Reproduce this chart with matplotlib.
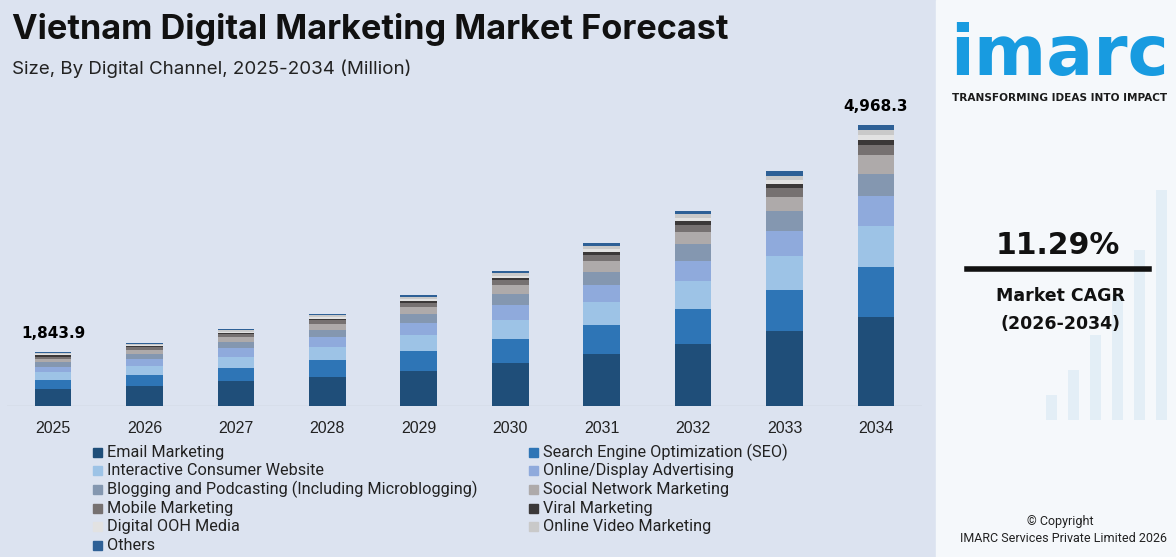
import numpy as np
import matplotlib.pyplot as plt
from matplotlib.patches import Rectangle

W, H = 1176, 557

years = ['2025', '2026', '2027', '2028', '2029', '2030', '2031', '2032', '2033', '2034']
segments = ['Email Marketing', 'Search Engine Optimization (SEO)', 'Interactive Consumer Website',
            'Online/Display Advertising', 'Blogging and Podcasting (Including Microblogging)',
            'Social Network Marketing', 'Mobile Marketing', 'Viral Marketing', 'Digital OOH Media',
            'Online Video Marketing', 'Others']
colors = ['#1f4e79', '#2e75b6', '#9dc3e6', '#8faadc', '#8497b0', '#aeaaaa',
          '#767171', '#3b3838', '#e2e2e2', '#c9c9c9', '#2e6096']

email = [299, 356, 434, 519, 626, 762, 914, 1100, 1330, 1579]
seo = [160, 199, 243, 290, 350, 426, 512, 621, 727, 887]
interactive = [147, 160, 195, 233, 282, 342, 411, 497, 603, 710]
display = [89, 120, 146, 175, 211, 256, 308, 355, 444, 532]
blogging = [83, 91, 111, 132, 159, 194, 233, 284, 337, 403]
social = [53, 73, 89, 106, 128, 156, 187, 218, 254, 325]
mobile = [41, 40, 49, 59, 71, 86, 103, 124, 154, 177]
viral = [23, 20, 25, 29, 35, 43, 52, 71, 71, 89]
dooh = [18, 20, 25, 29, 35, 43, 52, 59, 76, 89]
video = [18, 20, 25, 29, 35, 43, 52, 59, 71, 89]
others = [18, 20, 25, 29, 35, 43, 52, 59, 83, 89]
series = [email, seo, interactive, display, blogging, social, mobile, viral, dooh, video, others]

total_labels = {0: 1843.9, 9: 4968.3}


def fx(x):
    return x / W


def fy(y):
    return 1 - y / H


fig = plt.figure(figsize=(W / 100, H / 100), dpi=100)
fig.patches.append(Rectangle((0, 0), fx(936), 1, transform=fig.transFigure, color='#dce3f0', zorder=-10))
fig.patches.append(Rectangle((fx(936), 0), 1 - fx(936), 1, transform=fig.transFigure, color='#f5f8fb', zorder=-10))

# faint chart image feel on the right panel
bg = fig.add_axes([fx(936), 0, 1 - fx(936), 1])
bg.set_xlim(0, 240)
bg.set_ylim(557, 0)
bg.axis('off')
for bx, bt in [(110, 395), (132, 370), (154, 335), (176, 295), (198, 250), (220, 190)]:
    bg.add_patch(Rectangle((bx, bt), 11, 420 - bt, color='#dcebf5', alpha=0.7, lw=0))

ax = fig.add_axes([fx(7.3), fy(406), fx(914.4), 316 / H])
ax.set_facecolor('none')
x = np.arange(len(years))
bottom = np.zeros(len(years))
for vals, col in zip(series, colors):
    ax.bar(x, vals, 0.4, bottom=bottom, color=col, zorder=3)
    bottom += np.array(vals)
ax.axhline(0, color='#c5cbd6', lw=1, zorder=2)
ax.set_xlim(-0.5, 9.5)
ax.set_ylim(0, 5590)
ax.set_xticks(x)
ax.set_xticklabels(years, fontsize=11.5, family='Liberation Sans', color='#222222')
ax.tick_params(axis='x', length=0, pad=11)
ax.set_yticks([])
for s in ax.spines.values():
    s.set_visible(False)
for i, v in total_labels.items():
    ax.annotate(f'{v:,.1f}', (x[i], bottom[i]), xytext=(0, 8), textcoords='offset points',
                ha='center', va='bottom', fontsize=11, fontweight='bold', family='DejaVu Sans')

fig.text(fx(12), fy(29), 'Vietnam Digital Marketing Market Forecast', fontsize=24.7, fontweight='bold',
         family='Inter', va='center', color='#111111')
fig.text(fx(12), fy(69), 'Size, By Digital Channel, 2025-2034 (Million)', fontsize=13.5,
         family='Inter', va='center', color='#222222')

# legend, two columns filled row by row
row_y = [452, 470.7, 489.4, 508, 526.7, 545.4]
for k, (lab, col) in enumerate(zip(segments, colors)):
    r, c = k // 2, k % 2
    mx = 93 if c == 0 else 529
    y = row_y[r]
    fig.patches.append(Rectangle((fx(mx), fy(y + 4.5)), fx(9), 9 / H, transform=fig.transFigure,
                                 color=col, zorder=3))
    fig.text(fx(mx + 14), fy(y), lab, fontsize=11.7, family='Roboto', va='center', color='#222222')

# right panel
fig.text(fx(1060), fy(55), 'imarc', fontsize=50, fontweight='bold', family='DejaVu Sans', color='#189be0',
         ha='center', va='center')
fig.text(fx(1060), fy(98), 'TRANSFORMING IDEAS INTO IMPACT', fontsize=7.6, fontweight='bold',
         family='DejaVu Sans', color='#1b1b1b', ha='center', va='center')
fig.text(fx(1058), fy(245), '11.29%', fontsize=21.5, fontweight='bold', family='DejaVu Sans',
         ha='center', va='center', color='#111111')
fig.add_artist(plt.Line2D([fx(967), fx(1149)], [fy(269), fy(269)], color='#111111', lw=4,
                          transform=fig.transFigure))
fig.text(fx(1060), fy(296), 'Market CAGR', fontsize=12.5, fontweight='bold', family='DejaVu Sans',
         ha='center', va='center', color='#111111')
fig.text(fx(1060), fy(324), '(2026-2034)', fontsize=12.5, fontweight='bold', family='DejaVu Sans',
         ha='center', va='center', color='#111111')
fig.text(fx(1060), fy(521), '© Copyright', fontsize=9, family='Roboto', ha='center', va='center',
         color='#222222')
fig.text(fx(1063), fy(538), 'IMARC Services Private Limited 2026', fontsize=9, family='Roboto',
         ha='center', va='center', color='#222222')

fig.savefig('out.png', dpi=100)
